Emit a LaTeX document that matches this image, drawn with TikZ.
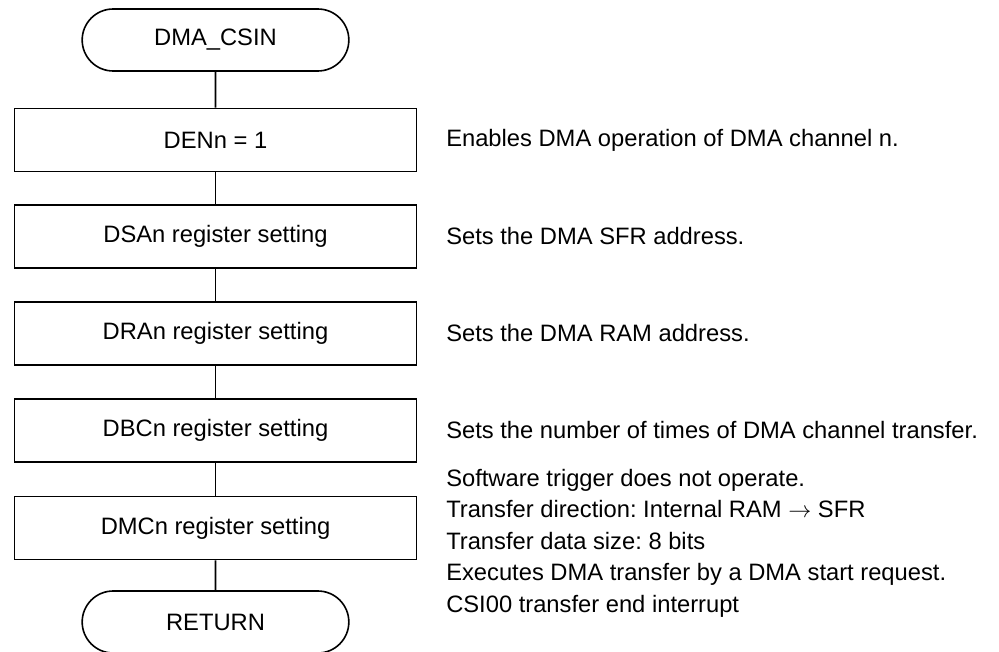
\documentclass[tikz,border=0pt]{standalone}
\usepackage{fontspec}
\setmainfont{Liberation Sans}
\frenchspacing
\usetikzlibrary{shapes.misc, positioning}
\tikzset{
  terminal/.style={rounded rectangle, minimum width=200pt, minimum height=46.5pt, inner sep=0pt, draw=black, line width=1.2pt, font=\fontsize{17.8}{23.6}\selectfont},
  process/.style={rectangle, minimum width=301.5pt, minimum height=47.25pt, inner sep=0pt, draw=black, line width=1.2pt, font=\fontsize{17.8}{23.6}\selectfont},
  note/.style={align=left, inner sep=0pt, font=\fontsize{17.8}{23.6}\selectfont},
  flow/.style={line width=1.2pt}
}
\begin{document}
\begin{tikzpicture}[x=0.75pt, y=-0.75pt]
    \useasboundingbox (0,0) rectangle (999,652);

    % Flujo principal
    \node[terminal] (start) at (215.5, 40) {DMA\_CSIN};
    \node[process] (den) at (215.5, 140) {DENn = 1};
    \node[process] (dsa) at (215.5, 236.5) {DSAn register setting};
    \node[process] (dra) at (215.5, 333.5) {DRAn register setting};
    \node[process] (dbc) at (215.5, 430.5) {DBCn register setting};
    \node[process] (dmc) at (215.5, 528) {DMCn register setting};
    \node[terminal] (ret) at (215.5, 622) {RETURN};

    % Lineas de union
    \draw[flow] (start) -- (den);
    \draw[flow] (den) -- (dsa);
    \draw[flow] (dsa) -- (dra);
    \draw[flow] (dra) -- (dbc);
    \draw[flow] (dbc) -- (dmc);
    \draw[flow] (dmc) -- (ret);

    % Comentarios a la derecha
    \node[note, anchor=west] (cden) at (446, 140) {Enables DMA operation of DMA channel n.};
    \node[note, anchor=west] (cdsa) at (446, 236.5) {Sets the DMA SFR address.};
    \node[note, anchor=west] (cdra) at (446, 333.5) {Sets the DMA RAM address.};
    \node[note, anchor=west] (cdbc) at (446, 430.5) {Sets the number of times of DMA channel transfer.};
    \node[note, anchor=north west] (cdmc) at (446, 469) {Software trigger does not operate.\\
        Transfer direction: Internal RAM $\rightarrow$ SFR\\
        Transfer data size: 8 bits\\
        Executes DMA transfer by a DMA start request.\\
        CSI00 transfer end interrupt};
\end{tikzpicture}
\end{document}
